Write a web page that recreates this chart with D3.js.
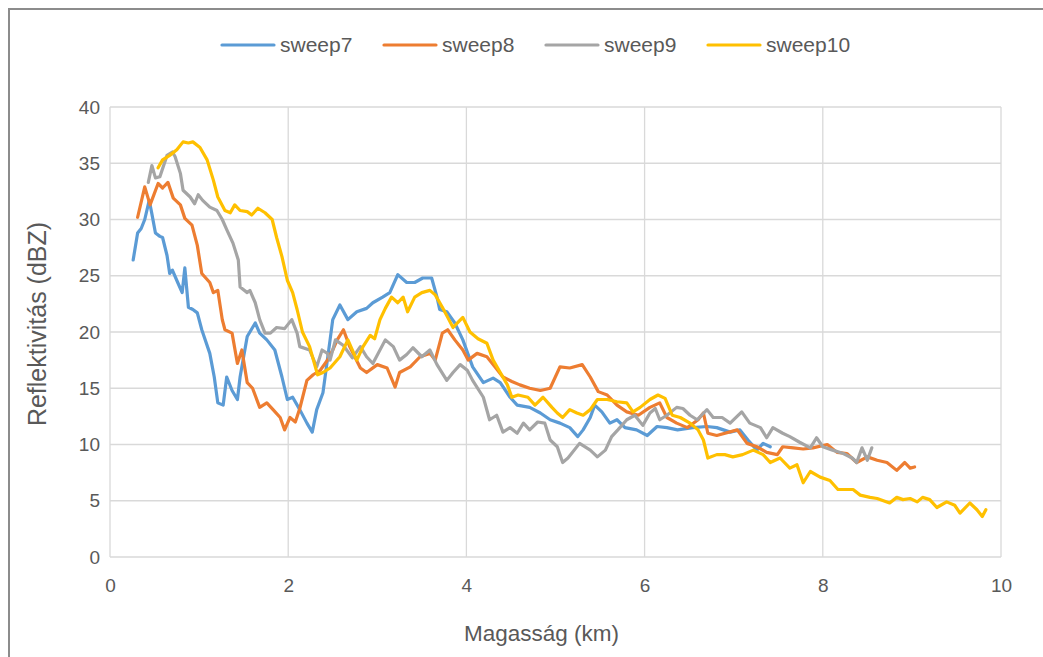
<!DOCTYPE html>
<html>
<head>
<meta charset="utf-8">
<script src="https://cdn.jsdelivr.net/npm/d3@7"></script>
<style>
  html, body { margin: 0; padding: 0; background: #ffffff; }
  svg { display: block; }
  text { font-family: "Liberation Sans", Arial, sans-serif; fill: #595959; }
</style>
</head>
<body>
<svg id="chart" width="1043" height="657"></svg>
<script>
// Reflectivity profiles (dBZ) against height (km) for four radar sweeps.
const seriesNames = ["sweep7", "sweep8", "sweep9", "sweep10"];
const seriesColors = ["#5B9BD5", "#ED7D31", "#A5A5A5", "#FFC000"];

const sweep7Km = [0.26,0.31,0.35,0.39,0.44,0.47,0.51,0.56,0.59,0.64,0.67,0.70,0.76,0.81,0.84,0.88,0.93,0.98,1.03,1.12,1.17,1.21,1.27,1.31,1.37,1.43,1.46,1.54,1.63,1.68,1.76,1.85,1.93,1.99,2.05,2.13,2.21,2.27,2.32,2.39,2.47,2.50,2.58,2.67,2.77,2.88,2.95,3.06,3.14,3.23,3.33,3.42,3.51,3.61,3.67,3.70,3.78,3.87,3.96,4.07,4.19,4.30,4.38,4.49,4.57,4.71,4.83,4.94,5.05,5.16,5.25,5.31,5.39,5.44,5.52,5.61,5.69,5.78,5.91,6.03,6.14,6.25,6.37,6.54,6.70,6.81,6.96,7.07,7.16,7.26,7.33,7.41];
const sweep7Dbz = [26.4,28.8,29.2,30.0,31.7,30.5,28.8,28.5,28.4,26.8,25.2,25.5,24.4,23.5,25.7,22.2,22.0,21.7,20.2,18.1,16.0,13.7,13.5,16.0,14.8,14.0,16.0,19.6,20.8,19.9,19.3,18.4,16.0,14.0,14.2,13.1,11.9,11.1,13.1,14.6,19.3,21.1,22.4,21.1,21.8,22.1,22.6,23.1,23.5,25.1,24.4,24.4,24.8,24.8,23.1,22.0,21.8,20.8,19.3,16.9,15.5,15.9,15.5,14.2,13.5,13.3,12.8,12.2,11.9,11.5,10.7,11.3,12.4,13.5,12.9,11.9,12.2,11.5,11.3,10.8,11.6,11.5,11.3,11.5,11.6,11.5,11.1,11.3,10.4,9.5,10.1,9.8];

const sweep8Km = [0.31,0.39,0.45,0.54,0.59,0.65,0.71,0.79,0.84,0.92,0.98,1.03,1.12,1.16,1.21,1.26,1.29,1.37,1.43,1.48,1.54,1.60,1.68,1.76,1.83,1.91,1.96,2.02,2.08,2.13,2.21,2.28,2.36,2.44,2.50,2.55,2.62,2.69,2.81,2.88,3.00,3.11,3.20,3.25,3.37,3.48,3.59,3.65,3.73,3.79,3.87,3.96,4.02,4.12,4.23,4.32,4.41,4.51,4.60,4.71,4.83,4.94,5.05,5.16,5.30,5.39,5.48,5.58,5.69,5.80,5.93,6.06,6.17,6.25,6.36,6.48,6.60,6.66,6.71,6.81,7.04,7.15,7.26,7.37,7.49,7.55,7.67,7.78,7.89,8.05,8.16,8.27,8.38,8.50,8.61,8.72,8.83,8.92,8.98,9.03];
const sweep8Dbz = [30.2,32.9,31.3,33.2,32.8,33.3,31.9,31.3,30.1,29.5,27.7,25.2,24.4,23.5,23.7,21.1,20.2,19.9,17.2,18.4,15.5,15.0,13.3,13.7,13.1,12.4,11.3,12.4,12.0,13.2,15.7,16.2,16.6,17.5,18.4,19.3,20.2,18.7,16.8,16.4,17.1,16.8,15.1,16.4,16.9,17.8,18.1,17.5,19.9,20.2,19.3,18.4,17.5,18.1,17.8,16.9,16.0,15.6,15.3,15.0,14.8,15.0,16.9,16.8,17.1,16.0,14.7,14.4,13.5,12.9,12.6,13.3,13.7,12.4,11.9,11.5,12.2,12.8,11.0,10.8,11.3,10.1,9.8,9.3,9.1,9.8,9.7,9.6,9.7,10.0,9.3,9.2,8.4,8.9,8.6,8.4,7.7,8.4,7.9,8.0];

const sweep9Km = [0.43,0.47,0.51,0.56,0.64,0.70,0.73,0.79,0.82,0.90,0.95,0.99,1.04,1.12,1.20,1.26,1.31,1.38,1.44,1.46,1.54,1.57,1.63,1.68,1.74,1.80,1.87,1.96,2.04,2.10,2.13,2.24,2.32,2.38,2.44,2.47,2.53,2.62,2.72,2.81,2.88,2.95,3.09,3.18,3.25,3.33,3.40,3.50,3.59,3.67,3.78,3.85,3.93,4.01,4.07,4.19,4.26,4.34,4.41,4.49,4.57,4.64,4.71,4.80,4.88,4.94,5.02,5.08,5.14,5.27,5.39,5.47,5.56,5.63,5.70,5.80,5.89,5.98,6.06,6.12,6.17,6.25,6.36,6.43,6.51,6.59,6.70,6.77,6.87,6.96,7.09,7.18,7.30,7.37,7.44,7.55,7.63,7.74,7.86,7.93,8.00,8.11,8.23,8.33,8.38,8.44,8.50,8.55];
const sweep9Dbz = [33.3,34.8,33.7,33.8,35.7,36.0,35.6,34.1,32.6,32.0,31.4,32.2,31.7,31.1,30.8,30.0,29.1,27.9,26.4,24.0,23.5,23.7,22.6,21.1,19.9,19.9,20.4,20.3,21.1,19.9,18.7,18.4,16.9,18.4,18.1,17.5,19.3,18.8,17.7,18.7,17.8,17.2,19.3,18.7,17.5,18.0,18.6,17.8,18.4,17.1,15.7,16.4,17.1,16.6,15.7,14.2,12.2,12.6,11.1,11.5,11.0,11.9,11.3,12.0,11.9,10.4,9.8,8.4,8.8,10.1,9.5,8.9,9.5,10.7,11.3,12.2,12.6,11.7,12.8,13.2,12.2,12.6,13.3,13.2,12.6,12.2,13.1,12.4,12.4,11.9,12.9,11.9,11.5,10.6,11.5,11.0,10.7,10.2,9.7,10.6,9.8,9.5,9.2,8.8,8.4,9.7,8.6,9.7];

const sweep10Km = [0.54,0.59,0.67,0.75,0.82,0.88,0.93,1.01,1.09,1.16,1.21,1.29,1.35,1.40,1.46,1.54,1.59,1.66,1.74,1.82,1.87,1.93,1.99,2.05,2.10,2.16,2.24,2.33,2.39,2.47,2.58,2.67,2.77,2.84,2.92,2.97,3.03,3.09,3.16,3.23,3.29,3.34,3.42,3.50,3.59,3.65,3.73,3.79,3.85,3.91,3.96,4.04,4.13,4.23,4.30,4.38,4.46,4.51,4.58,4.69,4.77,4.86,4.96,5.02,5.08,5.16,5.24,5.31,5.39,5.47,5.58,5.69,5.80,5.87,5.95,6.06,6.15,6.23,6.31,6.40,6.51,6.60,6.66,6.71,6.81,6.90,6.99,7.10,7.22,7.33,7.41,7.52,7.63,7.71,7.78,7.86,7.97,8.08,8.17,8.27,8.34,8.42,8.53,8.61,8.75,8.83,8.90,8.98,9.06,9.12,9.20,9.28,9.39,9.48,9.54,9.65,9.73,9.79,9.83];
const sweep10Dbz = [34.6,35.3,35.7,36.2,36.9,36.8,36.9,36.4,35.3,33.5,32.0,30.8,30.6,31.3,30.8,30.7,30.4,31.0,30.6,30.0,28.4,26.7,24.6,23.5,22.0,20.0,18.7,16.2,16.4,16.8,17.8,19.3,17.5,18.7,19.7,19.4,21.1,22.1,23.1,22.6,23.1,21.8,23.1,23.5,23.7,23.3,22.2,21.3,20.4,20.9,21.3,20.0,19.4,19.0,17.5,16.4,15.3,14.2,14.4,14.2,13.5,14.2,13.3,12.8,12.4,13.1,12.8,12.6,13.1,14.0,14.0,13.8,13.7,12.9,13.3,14.0,14.4,14.1,12.6,12.4,11.9,11.3,10.4,8.8,9.1,9.1,8.9,9.1,9.5,9.1,8.4,8.8,7.9,8.2,6.6,7.6,7.1,6.8,6.0,6.0,6.0,5.5,5.3,5.2,4.8,5.3,5.1,5.2,4.9,5.3,5.1,4.4,4.9,4.6,3.9,4.8,4.2,3.6,4.2];

const xTicks = [0, 2, 4, 6, 8, 10];
const yTicks = [0, 5, 10, 15, 20, 25, 30, 35, 40];
const xTitle = "Magasság (km)";
const yTitle = "Reflektivitás (dBZ)";

const seriesKm = [sweep7Km, sweep8Km, sweep9Km, sweep10Km];
const seriesDbz = [sweep7Dbz, sweep8Dbz, sweep9Dbz, sweep10Dbz];
const series = seriesNames.map((name, i) => ({
  name,
  color: seriesColors[i],
  points: seriesKm[i].map((k, j) => [k, seriesDbz[i][j]])
}));

const svg = d3.select("#chart");

// chart frame
svg.append("rect")
  .attr("x", 9).attr("y", 9)
  .attr("width", 1100).attr("height", 700)
  .attr("fill", "none")
  .attr("stroke", "#8c8c8c")
  .attr("stroke-width", 2);

const plot = { left: 110, right: 1001, top: 107, bottom: 557 };
const x = d3.scaleLinear().domain([0, 10]).range([plot.left, plot.right]);
const y = d3.scaleLinear().domain([0, 40]).range([plot.bottom, plot.top]);

// gridlines
const grid = svg.append("g").attr("stroke", "#d9d9d9").attr("stroke-width", 1.3);
grid.selectAll("line.h").data(yTicks).join("line")
  .attr("class", "h")
  .attr("x1", plot.left).attr("x2", plot.right)
  .attr("y1", d => y(d)).attr("y2", d => y(d));
grid.selectAll("line.v").data(xTicks).join("line")
  .attr("class", "v")
  .attr("y1", plot.top).attr("y2", plot.bottom)
  .attr("x1", d => x(d)).attr("x2", d => x(d));

// axes: labels only, gridlines carry the structure
const xAxis = svg.append("g")
  .attr("transform", `translate(0,${plot.bottom + 14})`)
  .call(d3.axisBottom(x).tickValues(xTicks).tickSize(0).tickPadding(8).tickFormat(d3.format("d")));
xAxis.select(".domain").remove();
xAxis.selectAll("text").style("font-size", "19px").attr("fill", "#595959");

const yAxis = svg.append("g")
  .attr("transform", `translate(${plot.left - 10},0)`)
  .call(d3.axisLeft(y).tickValues(yTicks).tickSize(0).tickPadding(0).tickFormat(d3.format("d")));
yAxis.select(".domain").remove();
yAxis.selectAll("text").style("font-size", "19px").attr("fill", "#595959");

// axis titles
svg.append("text")
  .attr("x", (plot.left + plot.right) / 2 - 14)
  .attr("y", 641)
  .attr("text-anchor", "middle")
  .style("font-size", "22.5px")
  .text(xTitle);

svg.append("text")
  .attr("transform", `translate(46,${(plot.top + plot.bottom) / 2 - 8}) rotate(-90)`)
  .attr("text-anchor", "middle")
  .style("font-size", "25px")
  .text(yTitle);

// series lines
const line = d3.line().x(d => x(d[0])).y(d => y(d[1]));
svg.append("g").selectAll("path").data(series).join("path")
  .attr("d", d => line(d.points))
  .attr("fill", "none")
  .attr("stroke", d => d.color)
  .attr("stroke-width", 3.2)
  .attr("stroke-linejoin", "round")
  .attr("stroke-linecap", "round");

// legend
const legend = svg.append("g").attr("transform", "translate(222,45)");
const item = legend.selectAll("g").data(series).join("g")
  .attr("transform", (d, i) => `translate(${i * 162},0)`);
item.append("line")
  .attr("x1", 0).attr("x2", 52).attr("y1", 0).attr("y2", 0)
  .attr("stroke", d => d.color)
  .attr("stroke-width", 3.2)
  .attr("stroke-linecap", "round");
item.append("text")
  .attr("x", 58).attr("y", 0)
  .attr("dy", "0.35em")
  .style("font-size", "21px")
  .text(d => d.name);
</script>
</body>
</html>
